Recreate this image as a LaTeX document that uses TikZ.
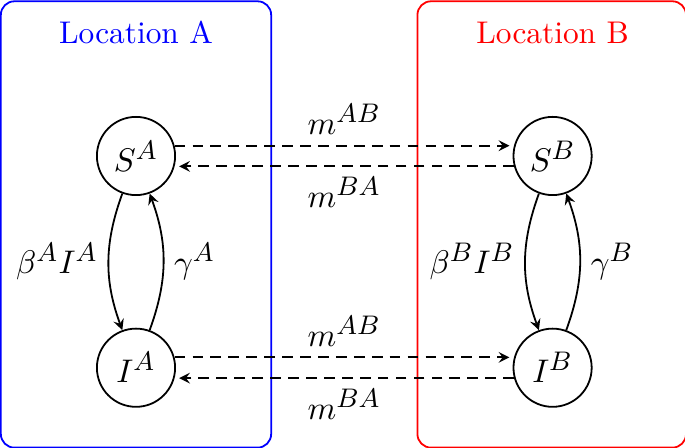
\documentclass[tikz,border=0pt]{standalone}
\usepackage{amsmath}
\usepackage{tikz}
\usetikzlibrary{positioning,calc,arrows}
\DeclareMathSizes{10.5}{10.5}{8.8}{7}

\begin{document}
\begin{tikzpicture}[node distance=1.55cm and 3.96cm,
    font=\fontsize{10.5}{12.6}\selectfont,
    pop/.style={circle, draw, semithick, minimum size=0.92cm, inner sep=0pt},
    flow/.style={-stealth, semithick},
    move/.style={flow, dash pattern=on 3.6pt off 2.4pt, shorten >=1.5pt},
    site/.style={semithick, rounded corners=0.16cm}]

    \useasboundingbox (-1.6,1.835) rectangle (6.459,-3.435);

    \node[pop] (SA) {$S^A$};
    \node[pop, below=of SA] (IA) {$I^A$};
    \node[pop, right=of SA] (SB) {$S^B$};
    \node[pop, below=of SB] (IB) {$I^B$};

    \draw[site, blue] ($(SA)+(-1.59,1.82)$) rectangle ($(IA)+(1.59,-0.94)$);
    \draw[site, red] ($(SB)+(-1.59,1.82)$) rectangle ($(IB)+(1.57,-0.94)$);

    \node[blue] (locA) at ($(SA)+(0,1.45)$) {Location A};
    \node[red] (locB) at ($(SB)+(0,1.45)$) {Location B};

    \draw[flow] (SA) to[bend right=20] node[left] {$\beta^A I^A$} (IA);
    \draw[flow] (IA) to[bend right=20] node[right] {$\gamma^A$} (SA);
    \draw[flow] (SB) to[bend right=20] node[left] {$\beta^B I^B$} (IB);
    \draw[flow] (IB) to[bend right=20] node[right] {$\gamma^B$} (SB);

    \draw[move] (SA.15) -- node[above] {$m^{AB}$} (SB.165);
    \draw[move] (SB.195) -- node[below] {$m^{BA}$} (SA.-15);
    \draw[move] (IA.15) -- node[above] {$m^{AB}$} (IB.165);
    \draw[move] (IB.195) -- node[below] {$m^{BA}$} (IA.-15);
\end{tikzpicture}
\end{document}
